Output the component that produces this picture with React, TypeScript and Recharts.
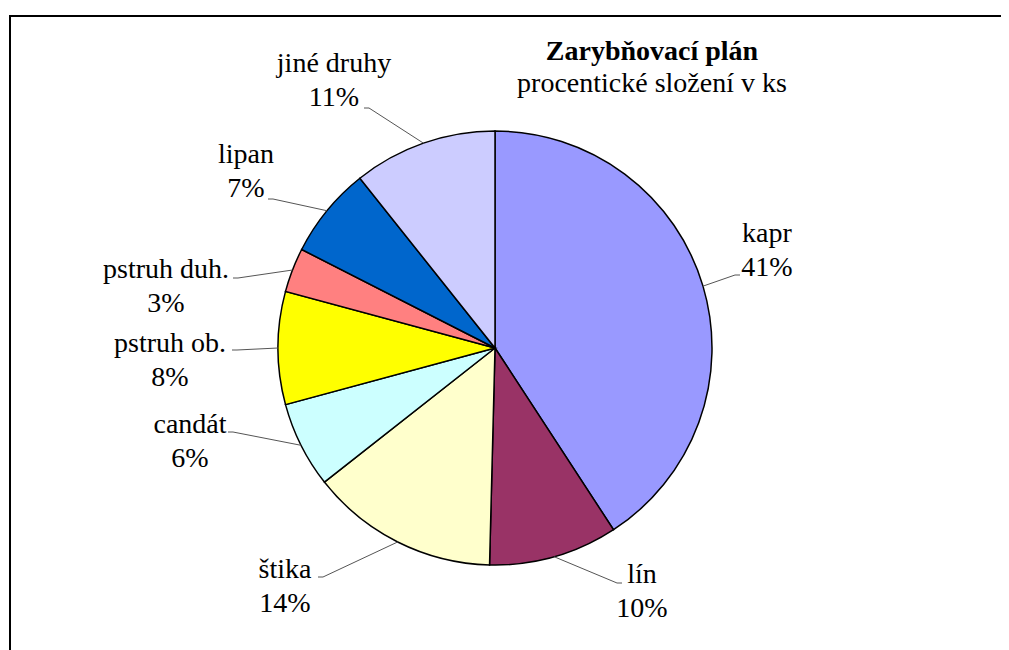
import { PieChart, Pie, Cell } from 'recharts';

// share of each species in the stocking plan (%)
const species = ['kapr', 'lín', 'štika', 'candát', 'pstruh ob.', 'pstruh duh.', 'lipan', 'jiné druhy'];
const shares = [40.8, 9.6, 14.0, 6.4, 8.4, 3.3, 6.8, 10.7];
const colors = ['#9999FF', '#993366', '#FFFFCC', '#CCFFFF', '#FFFF00', '#FF8080', '#0066CC', '#CCCCFF'];

const titleLines = ['Zarybňovací plán', 'procentické složení v ks'];

// label placement relative to the pie centre: text centre x, first baseline y, leader end point
const labelSpots = [
  { tx: 272, ty: -106, ex: 245, ey: -73 },
  { tx: 147, ty: 235, ex: 127, ey: 235 },
  { tx: -210, ty: 230, ex: -177, ey: 229 },
  { tx: -305, ty: 85, ex: -267, ey: 84 },
  { tx: -325, ty: 4, ex: -263, ey: 2 },
  { tx: -329, ty: -70, ex: -262, ey: -70 },
  { tx: -249, ty: -185, ex: -227, ey: -149 },
  { tx: -161, ty: -276, ex: -131, ey: -240 },
];

const data = species.map((name, i) => ({ name, value: shares[i] }));

const RADIAN = Math.PI / 180;

function SliceLabel(props: any) {
  const { cx, cy, midAngle, outerRadius, percent, index, name } = props;
  const spot = labelSpots[index];
  const sx = cx + outerRadius * Math.cos(-midAngle * RADIAN);
  const sy = cy + outerRadius * Math.sin(-midAngle * RADIAN);
  const qx = cx + spot.ex;
  const qy = cy + spot.ey;
  const px = spot.ex > 0 ? qx - 5 : qx + 5;
  return (
    <g>
      <polyline points={`${sx},${sy} ${px},${qy} ${qx},${qy}`} fill="none" stroke="#555" strokeWidth={1} />
      <text className="serif-txt" x={cx + spot.tx} y={cy + spot.ty} textAnchor="middle" fontSize={28} fill="#000">
        {name}
      </text>
      <text className="serif-txt" x={cx + spot.tx} y={cy + spot.ty + 34} textAnchor="middle" fontSize={28} fill="#000">
        {`${Math.round(percent * 100)}%`}
      </text>
    </g>
  );
}

export default function App() {
  return (
    <div style={{ position: 'relative', width: 1001, height: 642, background: '#fff' }}>
      <style>{`.serif-txt, .recharts-wrapper text { font-family: 'Liberation Serif' !important; }`}</style>
      <div
        style={{
          position: 'absolute',
          left: 1,
          top: 7,
          width: 1100,
          height: 700,
          borderLeft: '2px solid #000',
          borderTop: '2px solid #000',
          boxSizing: 'border-box',
        }}
      />
      <PieChart
        width={1001}
        height={642}
        margin={{ top: 0, right: 0, bottom: 0, left: 0 }}
        style={{ position: 'absolute', left: 0, top: 0 }}
      >
        <text className="serif-txt" x={644} y={52} textAnchor="middle" fontSize={28} fontWeight="bold" fill="#000">
          {titleLines[0]}
        </text>
        <text className="serif-txt" x={644} y={84} textAnchor="middle" fontSize={28} fill="#000">
          {titleLines[1]}
        </text>
        <Pie
          data={data}
          dataKey="value"
          nameKey="name"
          cx={487}
          cy={340}
          outerRadius={217}
          startAngle={90}
          endAngle={-270}
          stroke="#000"
          strokeWidth={1.5}
          label={SliceLabel}
          labelLine={false}
          isAnimationActive={false}
        >
          {data.map((entry, i) => (
            <Cell key={entry.name} fill={colors[i]} />
          ))}
        </Pie>
      </PieChart>
    </div>
  );
}
